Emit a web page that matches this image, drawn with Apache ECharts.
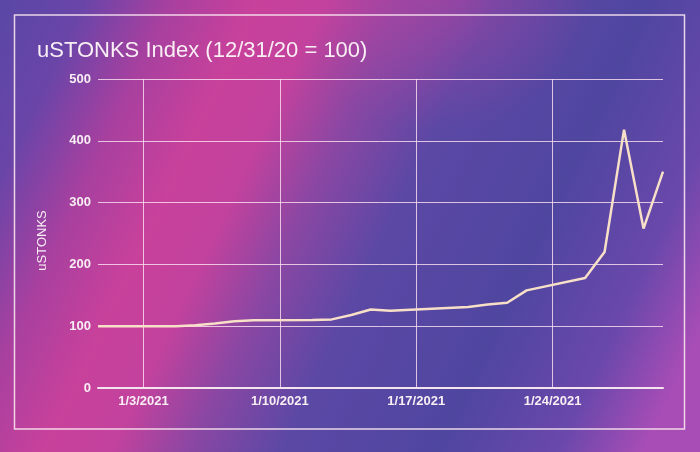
<!DOCTYPE html>
<html>
<head>
<meta charset="utf-8">
<script src="https://cdn.jsdelivr.net/npm/echarts@6/dist/echarts.min.js"></script>
<style>
html,body{margin:0;padding:0;background:#5a48a6;}
#c{width:700px;height:452px;}
</style>
</head>
<body>
<div id="c"></div>
<script>
// Data (trading days, 4pm close)
const dates = ['2020-12-31 16:00','2021-01-04 16:00','2021-01-05 16:00','2021-01-06 16:00','2021-01-07 16:00','2021-01-08 16:00','2021-01-11 16:00','2021-01-12 16:00','2021-01-13 16:00','2021-01-14 16:00','2021-01-15 16:00','2021-01-19 16:00','2021-01-20 16:00','2021-01-21 16:00','2021-01-22 16:00','2021-01-25 16:00','2021-01-26 16:00','2021-01-27 16:00','2021-01-28 16:00','2021-01-29 16:00'];
const values = [100,100,101.5,104.5,108,109.5,110,111,118,127,125,131,135,138,158,178,220,418,258,350];
const tickDates = ['2021-01-03 00:00','2021-01-10 00:00','2021-01-17 00:00','2021-01-24 00:00'];
const tickLabels = ['1/3/2021','1/10/2021','1/17/2021','1/24/2021'];
const yTicks = [0,100,200,300,400,500];

// convert to days since 2021-01-03 00:00 (UTC-based arithmetic to avoid DST issues)
function toDays(s){const [d,t]=s.split(' ');const [Y,M,D]=d.split('-').map(Number);const [h,m]=t.split(':').map(Number);
  return (Date.UTC(Y,M-1,D,h,m) - Date.UTC(2021,0,3,0,0))/86400000;}
const xs = dates.map(toDays);
const tickX = tickDates.map(toDays);

const chart = echarts.init(document.getElementById('c'), null, {renderer:'canvas'});
const gridColor = 'rgba(250,225,240,0.82)';
const font = 'Liberation Sans, Arial, sans-serif';
chart.setOption({
  backgroundColor: {
    type:'linear', x:0, y:0, x2:700, y2:332, global:true,
    colorStops:[
      {offset:0, color:'#5947a6'},
      {offset:0.1, color:'#6a45a8'},
      {offset:0.2, color:'#a8409f'},
      {offset:0.3, color:'#c8419b'},
      {offset:0.38, color:'#c2429d'},
      {offset:0.47, color:'#8a47a3'},
      {offset:0.58, color:'#5b48a5'},
      {offset:0.76, color:'#4f46a0'},
      {offset:0.9, color:'#6a48ab'},
      {offset:1.0, color:'#a84db6'}
    ]
  },
  graphic:[
    {type:'circle', shape:{cx:440, cy:-30, r:160}, silent:true, z:-10,
     style:{fill:{type:'radial', x:0.5, y:0.5, r:0.5, colorStops:[{offset:0,color:'rgba(200,66,160,0.5)'},{offset:1,color:'rgba(200,66,160,0)'}]}}},
    {type:'rect', shape:{x:14.5, y:15, width:670, height:414}, silent:true,
     style:{fill:null, stroke:'rgba(250,230,240,0.9)', lineWidth:1.5}}
  ],
  title:{
    text:'uSTONKS Index (12/31/20 = 100)',
    left:32, top:35,
    textStyle:{color:'#f8eef4', fontSize:22, fontWeight:'normal', fontFamily:font}
  },
  grid:{left:98, right:37, top:79, bottom:64, containLabel:false},
  xAxis:{
    type:'value',
    min: xs[0], max: xs[xs.length-1],
    axisLine:{show:true, lineStyle:{color:'#f4e4ee', width:2}},
    axisTick:{show:false, customValues: tickX},
    axisLabel:{
      customValues: tickX,
      color:'#f8eef4', fontSize:13, fontWeight:'bold', fontFamily:font, margin:7,
      formatter:function(v){let best=-1,bd=1e9;tickX.forEach((t,i)=>{const d=Math.abs(t-v);if(d<bd){bd=d;best=i;}});return bd<0.01?tickLabels[best]:'';}
    },
    splitLine:{show:true, lineStyle:{color:gridColor, width:1}}
  },
  yAxis:{
    type:'value', min:0, max:500, interval:100,
    name:'uSTONKS', nameLocation:'middle', nameGap:49, nameRotate:90,
    nameTextStyle:{color:'#f8eef4', fontSize:13, fontFamily:font, padding:[0,14,0,0]},
    axisLine:{show:false},
    axisTick:{show:false},
    axisLabel:{color:'#f8eef4', fontSize:13, fontWeight:'bold', fontFamily:font, margin:7,
      formatter:function(v){return yTicks.indexOf(v)>=0?String(v):'';}},
    splitLine:{show:true, lineStyle:{color:gridColor, width:1}}
  },
  series:[{
    type:'line',
    data: xs.map((x,i)=>[x, values[i]]),
    symbol:'none',
    smooth:false,
    lineStyle:{color:'#f7dfc8', width:2.5},
    z:5
  }],
  animation:false
});
</script>
</body>
</html>
